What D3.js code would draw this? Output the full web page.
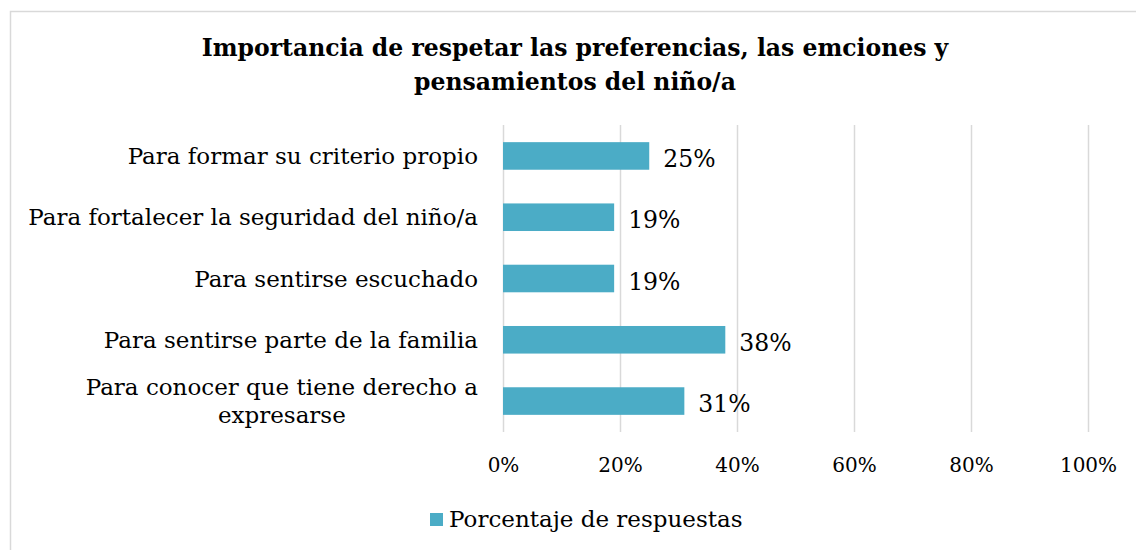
<!DOCTYPE html>
<html>
<head>
<meta charset="utf-8">
<script src="https://cdn.jsdelivr.net/npm/d3@7"></script>
<style>
  body { margin: 0; background: #fff; }
  text { font-family: "DejaVu Serif", Georgia, serif; }
</style>
</head>
<body>
<div class="chart"></div>
<script>
const categories = [
  ['Para formar su criterio propio'],
  ['Para fortalecer la seguridad del niño/a'],
  ['Para sentirse escuchado '],
  ['Para sentirse parte de la familia'],
  ['Para conocer que tiene derecho a', 'expresarse'],
];
const values = [0.25, 0.19, 0.19, 0.38, 0.31];
const ticks = [0, 0.2, 0.4, 0.6, 0.8, 1];
const titleLines = ['Importancia de respetar las preferencias, las emciones y', 'pensamientos del niño/a'];
const seriesName = 'Porcentaje de respuestas';

const W = 1136, H = 550;
const plot = {left: 503, right: 1088, top: 125, bottom: 432};

const svg = d3.select('.chart')
  .append('svg')
  .attr('width', W)
  .attr('height', H);

// chart frame (only top and left edges visible in the crop)
svg.append('path')
  .attr('d', `M10.5,${H} V11.5 H${W}`)
  .attr('fill', 'none')
  .attr('stroke', '#d9d9d9')
  .attr('stroke-width', 1.5);

svg.append('g')
  .selectAll('text')
  .data(titleLines)
  .enter()
  .append('text')
  .attr('x', 575)
  .attr('y', (d, i) => 56 + i * 34)
  .attr('text-anchor', 'middle')
  .style('font-size', '23.5px')
  .style('font-weight', 'bold')
  .style('fill', '#000')
  .text(d => d);

const xScale = d3.scaleLinear()
  .domain([0, 1])
  .range([plot.left, plot.right]);

const yScale = d3.scaleBand()
  .domain(d3.range(values.length))
  .range([plot.top, plot.bottom])
  .paddingInner(0.55)
  .paddingOuter(0.28);

svg.append('g')
  .attr('transform', `translate(0, ${plot.bottom})`)
  .call(d3.axisBottom(xScale)
    .tickValues(ticks)
    .tickSize(plot.bottom - plot.top)
    .tickFormat(d3.format('.0%')))
  .call(g => g.select('.domain').remove())
  .call(g => g.selectAll('line')
    .attr('stroke', '#d9d9d9')
    .attr('stroke-width', 1.5)
    .attr('transform', `translate(0, ${-(plot.bottom - plot.top)})`))
  .call(g => g.selectAll('text')
    .attr('y', 40)
    .attr('dy', 0)
    .style('font-size', '20px')
    .style('fill', '#000'));

svg.append('g')
  .selectAll('rect')
  .data(values)
  .enter()
  .append('rect')
  .attr('x', xScale(0))
  .attr('y', (d, i) => yScale(i))
  .attr('width', d => xScale(d) - xScale(0))
  .attr('height', yScale.bandwidth())
  .style('fill', '#4bacc6');

svg.append('g')
  .selectAll('text')
  .data(values)
  .enter()
  .append('text')
  .attr('x', d => xScale(d) + 14)
  .attr('y', (d, i) => yScale(i) + yScale.bandwidth() / 2 + 11)
  .style('font-size', '23.5px')
  .style('fill', '#000')
  .text(d => d3.format('.0%')(d));

const labels = svg.append('g')
  .selectAll('text')
  .data(categories)
  .enter()
  .append('text')
  .style('font-size', '23px')
  .style('fill', '#000')
  .attr('y', (d, i) => yScale(i) + yScale.bandwidth() / 2 + 8 - (d.length - 1) * 14);

const labelRight = 478;
labels.selectAll('tspan')
  .data(d => d)
  .enter()
  .append('tspan')
  .attr('x', labelRight)
  .attr('text-anchor', 'end')
  .attr('dy', (d, i) => i === 0 ? 0 : 28)
  .text(d => d);

// wrapped lines are centred under the first line
labels.each(function() {
  const spans = d3.select(this).selectAll('tspan');
  if (spans.size() < 2) return;
  const first = spans.node().getComputedTextLength();
  spans.filter((d, i) => i > 0)
    .attr('text-anchor', 'middle')
    .attr('x', labelRight - first / 2);
});

const legend = svg.append('g')
  .attr('transform', 'translate(430, 513)');
legend.append('rect')
  .attr('width', 13)
  .attr('height', 13)
  .style('fill', '#4bacc6');
legend.append('text')
  .attr('x', 19)
  .attr('y', 14)
  .style('font-size', '23px')
  .style('fill', '#000')
  .text(seriesName);
</script>
</body>
</html>
